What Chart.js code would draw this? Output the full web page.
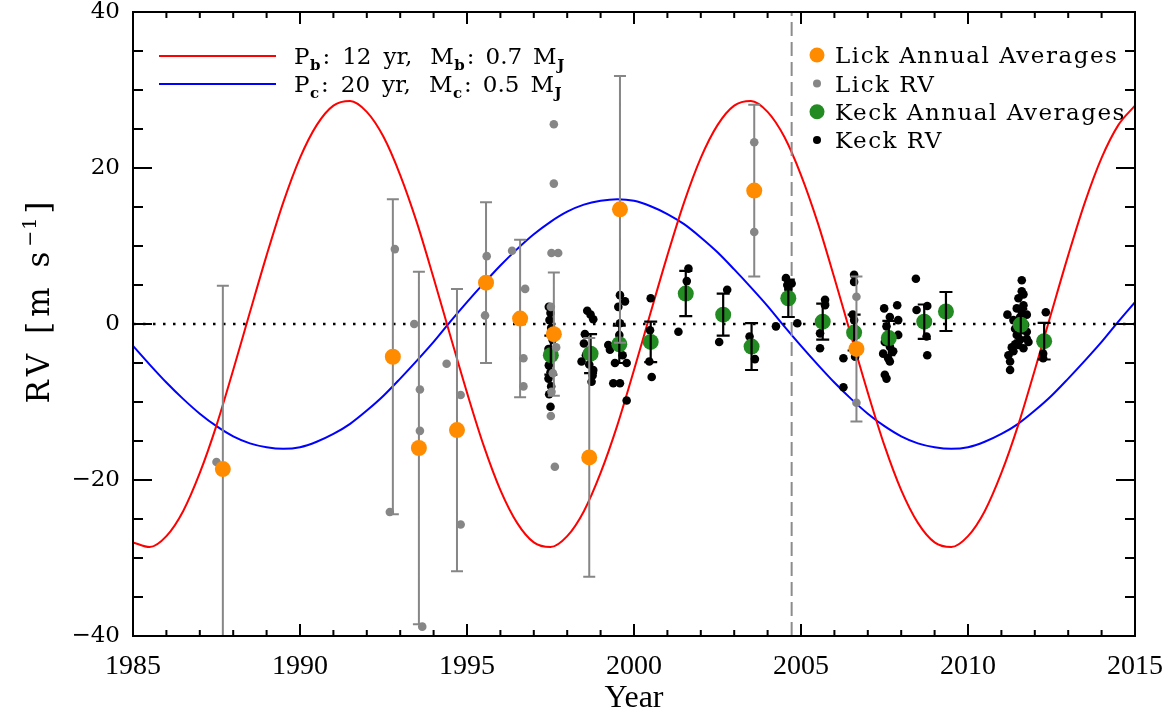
<!DOCTYPE html>
<html>
<head>
<meta charset="utf-8">
<script src="https://cdn.jsdelivr.net/npm/chart.js@4.4.1/dist/chart.umd.min.js"></script>
<style>
  html, body { margin: 0; padding: 0; background: #fff; }
  #wrap { width: 1176px; height: 719px; }
</style>
</head>
<body>
<div id="wrap"><canvas id="rv"></canvas></div>
<script>
// axis ticks
const yearTicks = [1985, 1990, 1995, 2000, 2005, 2010, 2015];
const rvTicks = [-40, -20, 0, 20, 40];
const yearMinorStep = 1;
const rvMinorStep = 5;
const markerYear = 2004.72;

const modelYears = [
  1985, 1985.5, 1986, 1986.5, 1987, 1987.5, 1988, 1988.5, 1989, 1989.5,
  1990, 1990.5, 1991, 1991.5, 1992, 1992.5, 1993, 1993.5, 1994, 1994.5,
  1995, 1995.5, 1996, 1996.5, 1997, 1997.5, 1998, 1998.5, 1999, 1999.5,
  2000, 2000.5, 2001, 2001.5, 2002, 2002.5, 2003, 2003.5, 2004, 2004.5,
  2005, 2005.5, 2006, 2006.5, 2007, 2007.5, 2008, 2008.5, 2009, 2009.5,
  2010, 2010.5, 2011, 2011.5, 2012, 2012.5, 2013, 2013.5, 2014, 2014.5, 2015
];
const planetB = [
  -28.0, -28.6, -27.2, -24.0, -19.1, -13.0, -5.9, 1.5, 8.8, 15.6, 21.3, 25.5,
  28.0, 28.6, 27.2, 24.0, 19.1, 13.0, 5.9, -1.5, -8.8, -15.6, -21.3, -25.5,
  -28.0, -28.6, -27.2, -24.0, -19.1, -13.0, -5.9, 1.5, 8.8, 15.6, 21.3, 25.5,
  28.0, 28.6, 27.2, 24.0, 19.1, 13.0, 5.9, -1.5, -8.8, -15.6, -21.3, -25.5,
  -28.0, -28.6, -27.2, -24.0, -19.1, -13.0, -5.9, 1.5, 8.8, 15.6, 21.3, 25.5, 28.0
];
const planetC = [
  -2.8, -5.2, -7.5, -9.6, -11.5, -13.1, -14.4, -15.3, -15.8, -16.0,
  -15.8, -15.1, -14.1, -12.8, -11.1, -9.2, -7.0, -4.7, -2.3, 0.3,
  2.8, 5.2, 7.5, 9.6, 11.5, 13.1, 14.4, 15.3, 15.8, 16.0,
  15.8, 15.1, 14.1, 12.8, 11.1, 9.2, 7.0, 4.7, 2.3, -0.3,
  -2.8, -5.2, -7.5, -9.6, -11.5, -13.1, -14.4, -15.3, -15.8, -16.0,
  -15.8, -15.1, -14.1, -12.8, -11.1, -9.2, -7.0, -4.7, -2.3, 0.3, 2.8
];

// Lick
const lickAvgYear = [1987.69, 1992.78, 1993.56, 1994.70, 1995.57, 1996.59, 1997.60, 1998.66, 1999.58, 2003.60, 2006.66];
const lickAvgRV = [-18.6, -4.2, -15.9, -13.6, 5.3, 0.7, -1.3, -17.1, 14.7, 17.1, -3.2];
const lickAvgErr = [23.5, 20.2, 22.6, 18.1, 10.3, 10.1, 7.9, 15.3, 17.1, 11.0, 9.3];

const lickYear = [
  1987.50, 1992.84, 1992.69, 1993.42, 1993.59, 1993.59, 1993.66, 1994.39, 1994.81, 1994.81,
  1995.59, 1995.54, 1996.35, 1996.74, 1996.69, 1996.69, 1997.60, 1997.60, 1997.53, 1997.73,
  1997.51, 1997.67, 1997.57, 1997.53, 1997.51, 1997.63, 2003.60, 2003.60, 2006.66, 2006.66
];
const lickRV = [
  -17.7, 9.6, -24.1, 0.0, -8.4, -13.7, -38.8, -5.1, -9.1, -25.7,
  8.7, 1.1, 9.4, 4.5, -4.4, -8.0, 25.6, 18.0, 9.1, 9.1,
  2.2, -3.0, -6.3, -8.7, -11.8, -18.3, 23.3, 11.8, 3.5, -10.1
];

// Keck
const keckAvgYear = [1997.51, 1998.70, 1999.56, 2000.50, 2001.55, 2002.67, 2003.52, 2004.62, 2005.65, 2006.59, 2007.63, 2008.69, 2009.34, 2011.58, 2012.28];
const keckAvgRV = [-4.0, -3.8, -2.6, -2.3, 3.9, 1.2, -2.9, 3.3, 0.3, -1.1, -1.8, 0.3, 1.6, -0.1, -2.2];
const keckAvgErr = [2.5, 2.5, 2.4, 2.6, 2.9, 2.7, 3.0, 2.4, 2.3, 2.3, 2.2, 2.2, 2.5, 2.0, 2.35];

const keckYear = [
  1997.45, 1997.50, 1997.47, 1997.52, 1997.56, 1997.44, 1997.55, 1997.45, 1997.50, 1997.44, 1997.52, 1997.46, 1997.50,
  1998.60, 1998.70, 1998.78, 1998.53, 1998.50, 1998.56, 1998.43, 1998.66, 1998.78, 1998.76, 1998.73,
  1999.58, 1999.73, 1999.53, 1999.58, 1999.56, 1999.23, 1999.28, 1999.66, 1999.43, 1999.78, 1999.38, 1999.58, 1999.78,
  2000.50, 2000.48, 2000.46, 2000.53, 2001.33, 2001.63, 2001.58,
  2002.79, 2002.55, 2003.46, 2003.62,
  2004.25, 2004.55, 2004.59, 2004.72, 2004.62, 2004.89,
  2005.72, 2005.72, 2005.57, 2005.57,
  2006.27, 2006.27, 2006.59, 2006.59, 2006.55, 2006.59, 2006.66, 2006.62,
  2007.49, 2007.88, 2007.66, 2007.91, 2007.56, 2007.91, 2007.51, 2007.66, 2007.76, 2007.46, 2007.61, 2007.66, 2007.51, 2007.56,
  2008.44, 2008.78, 2008.46, 2008.71, 2008.76, 2008.78,
  2011.61, 2011.61, 2011.51, 2011.66, 2011.46, 2011.18, 2011.76, 2011.56, 2011.36, 2011.71, 2011.41, 2011.76, 2011.46,
  2011.76, 2011.81, 2011.51, 2011.66, 2011.36, 2011.21, 2011.26, 2011.26, 2011.61, 2011.51, 2011.66, 2011.56, 2011.41,
  2011.31, 2011.66,
  2012.33, 2012.25, 2012.25
];
const keckRV = [
  2.2, 1.4, 0.5, -0.5, -2.0, -3.2, -4.3, -5.3, -6.2, -7.0, -8.0, -9.0, -10.6,
  1.7, 1.2, 0.6, -1.3, -2.5, -4.0, -4.8, -5.2, -5.9, -6.6, -7.4,
  3.7, 2.9, 2.2, 0.1, -1.4, -2.7, -3.3, -4.0, -5.0, -5.0, -7.6, -7.6, -9.8,
  3.3, -0.8, -4.8, -6.8, -1.0, 7.1, 5.5,
  4.4, -2.3, -1.6, -4.5,
  -0.3, 5.9, 5.0, 5.2, 4.5, 0.1,
  3.1, 2.4, -1.2, -3.1,
  -4.4, -8.1, 6.3, 5.4, 1.2, 0.5, -0.8, -4.2,
  2.0, 2.4, 0.9, 0.5, -0.3, -1.4, -2.3, -2.9, -3.5, -3.8, -4.4, -4.8, -6.5, -7.0,
  5.8, 2.3, 1.8, 0.7, -1.6, -4.0,
  5.6, 4.2, 3.3, 2.4, 2.0, 1.2, 1.2, 0.9, 0.5, -0.1, -0.6, -1.0, -1.4,
  -1.9, -2.3, -2.7, -3.1, -3.5, -4.0, -4.8, -5.9, 1.6, -0.3, -0.8, -2.0, -2.6,
  -3.0, 3.8,
  1.5, -3.8, -4.4
];

const pts = (xs, ys) => xs.map((v, i) => ({ x: v, y: ys[i] }));

const errorBars = {
  id: "errorBars",
  afterDatasetDraw(chart, args) {
    const bars = chart.data.datasets[args.index].errorBars;
    if (!bars) return;
    const { ctx, chartArea: a, scales: { x, y } } = chart;
    ctx.save();
    ctx.beginPath();
    ctx.rect(a.left, a.top, a.right - a.left, a.bottom - a.top);
    ctx.clip();
    ctx.strokeStyle = bars.color;
    ctx.lineWidth = bars.width;
    ctx.beginPath();
    bars.years.forEach((yr, i) => {
      const px = x.getPixelForValue(yr);
      const hi = y.getPixelForValue(bars.values[i] + bars.errs[i]);
      const lo = y.getPixelForValue(bars.values[i] - bars.errs[i]);
      ctx.moveTo(px, hi);
      ctx.lineTo(px, lo);
      ctx.moveTo(px - bars.cap, hi);
      ctx.lineTo(px + bars.cap, hi);
      ctx.moveTo(px - bars.cap, lo);
      ctx.lineTo(px + bars.cap, lo);
    });
    ctx.stroke();
    ctx.restore();
  }
};

const frame = {
  id: "frame",
  afterDatasetsDraw(chart) {
    const { ctx, chartArea: a, scales: { x, y } } = chart;
    ctx.save();
    ctx.strokeStyle = "#000";
    ctx.lineWidth = 2;
    ctx.beginPath();
    for (let v = yearTicks[0]; v <= yearTicks[yearTicks.length - 1]; v += yearMinorStep) {
      const px = x.getPixelForValue(v);
      const len = yearTicks.includes(v) ? 12 : 6;
      ctx.moveTo(px, a.bottom);
      ctx.lineTo(px, a.bottom - len);
      ctx.moveTo(px, a.top);
      ctx.lineTo(px, a.top + len);
    }
    for (let v = rvTicks[0]; v <= rvTicks[rvTicks.length - 1]; v += rvMinorStep) {
      const py = y.getPixelForValue(v);
      const len = rvTicks.includes(v) ? 19 : 10;
      ctx.moveTo(a.left, py);
      ctx.lineTo(a.left + len, py);
      ctx.moveTo(a.right, py);
      ctx.lineTo(a.right - len, py);
    }
    ctx.stroke();
    ctx.strokeRect(a.left, a.top, a.right - a.left, a.bottom - a.top);
    ctx.restore();
  }
};

// draws a run of [text, isSub, gapAfter] pieces from x0
function drawRun(ctx, pieces, x0, base, big, small) {
  let px = x0;
  pieces.forEach(([t, isSub, gap]) => {
    ctx.font = isSub ? small : big;
    ctx.fillText(t, px, isSub ? base + 6 : base);
    px += ctx.measureText(t).width + gap;
  });
}

// legends and the rotated y title
const labels = {
  id: "labels",
  afterDraw(chart) {
    const { ctx } = chart;
    const ds = chart.data.datasets;
    ctx.save();
    ctx.fillStyle = "#000";

    // model legend
    const rows = [
      { line: ds[0], y: 56, sub: "b", period: "12", mass: "0.7" },
      { line: ds[1], y: 84, sub: "c", period: "20", mass: "0.5" }
    ];
    rows.forEach((r) => {
      ctx.strokeStyle = r.line.borderColor;
      ctx.lineWidth = 2;
      ctx.beginPath();
      ctx.moveTo(159, r.y);
      ctx.lineTo(276, r.y);
      ctx.stroke();
      ctx.fillStyle = "#000";
      drawRun(ctx, [
        ["P", false, 0.5], [r.sub, true, 2], [":", false, 12], [r.period, false, 12],
        ["yr,", false, 18], ["M", false, 0.5], [r.sub, true, 2], [":", false, 11],
        [r.mass, false, 11], ["M", false, 0.5], ["J", true, 0]
      ], 294, r.y + 8, "23px 'DejaVu Serif'", "bold 15px 'DejaVu Serif'");
    });

    // data legend
    const items = [ds[7], ds[5], ds[6], ds[4]];
    const centers = [55, 83.4, 111.7, 140];
    ctx.font = "23px 'DejaVu Serif'";
    ctx.letterSpacing = "1.5px";
    items.forEach((d, i) => {
      ctx.fillStyle = d.backgroundColor;
      ctx.beginPath();
      ctx.arc(817, centers[i], d.pointRadius > 6 ? 7.5 : 4, 0, Math.PI * 2);
      ctx.fill();
      ctx.fillStyle = "#000";
      ctx.fillText(d.label, 835, centers[i] + 8.3);
    });

    // y title with a raised exponent
    ctx.translate(41, 300);
    ctx.rotate(-Math.PI / 2);
    ctx.textBaseline = "middle";
    ctx.letterSpacing = "5px";
    const big = "31px 'DejaVu Serif'";
    const sup = "19px 'DejaVu Serif'";
    ctx.font = big;
    const w1 = ctx.measureText("RV [m s").width;
    const w3 = ctx.measureText("]").width;
    ctx.font = sup;
    ctx.letterSpacing = "1px";
    const w2 = ctx.measureText("\u22121").width;
    let px = -(w1 + w2 + w3 + 3) / 2;
    ctx.font = big;
    ctx.letterSpacing = "5px";
    ctx.fillText("RV [m s", px, 0);
    px += w1;
    ctx.font = sup;
    ctx.letterSpacing = "1px";
    ctx.fillText("\u22121", px, -10);
    px += w2 + 3;
    ctx.font = big;
    ctx.letterSpacing = "5px";
    ctx.fillText("]", px, 0);
    ctx.restore();
  }
};

new Chart(document.getElementById("rv"), {
  type: "scatter",
  data: {
    datasets: [
      {
        label: "planet b",
        data: pts(modelYears, planetB),
        showLine: true,
        borderColor: "#ff0000",
        borderWidth: 2,
        pointRadius: 0,
        cubicInterpolationMode: "monotone",
        order: 10
      },
      {
        label: "planet c",
        data: pts(modelYears, planetC),
        showLine: true,
        borderColor: "#0000ff",
        borderWidth: 2,
        pointRadius: 0,
        cubicInterpolationMode: "monotone",
        order: 11
      },
      {
        label: "zero",
        data: pts([yearTicks[0], yearTicks[yearTicks.length - 1]], [0, 0]),
        showLine: true,
        borderColor: "#000",
        borderWidth: 2.5,
        borderDash: [2.5, 7.5],
        pointRadius: 0,
        order: 9
      },
      {
        label: "marker",
        data: pts([markerYear, markerYear], [rvTicks[0], rvTicks[rvTicks.length - 1]]),
        showLine: true,
        borderColor: "#8c8c8c",
        borderWidth: 2,
        borderDash: [14, 6],
        pointRadius: 0,
        order: 8
      },
      {
        label: "Keck RV",
        data: pts(keckYear, keckRV),
        backgroundColor: "#000",
        borderWidth: 0,
        pointRadius: 4.3,
        order: 6
      },
      {
        label: "Lick RV",
        data: pts(lickYear, lickRV),
        backgroundColor: "#868686",
        borderWidth: 0,
        pointRadius: 4.3,
        order: 4,
        errorBars: { years: lickAvgYear, values: lickAvgRV, errs: lickAvgErr, color: "#868686", width: 2, cap: 6 }
      },
      {
        label: "Keck Annual Averages",
        data: pts(keckAvgYear, keckAvgRV),
        backgroundColor: "#228b22",
        borderWidth: 0,
        pointRadius: 8,
        order: 5,
        errorBars: { years: keckAvgYear, values: keckAvgRV, errs: keckAvgErr, color: "#000", width: 2.2, cap: 6.5 }
      },
      {
        label: "Lick Annual Averages",
        data: pts(lickAvgYear, lickAvgRV),
        backgroundColor: "#ff8c00",
        borderWidth: 0,
        pointRadius: 8,
        order: 3
      }
    ]
  },
  options: {
    responsive: true,
    maintainAspectRatio: false,
    devicePixelRatio: 1,
    animation: false,
    events: [],
    layout: { padding: { left: 0, top: 12, right: 41, bottom: 0 } },
    plugins: { legend: { display: false }, tooltip: { enabled: false } },
    scales: {
      x: {
        type: "linear",
        min: yearTicks[0],
        max: yearTicks[yearTicks.length - 1],
        afterBuildTicks: (s) => { s.ticks = yearTicks.map((v) => ({ value: v })); },
        afterFit: (s) => {
          s.height = 83;
          s.paddingLeft = 0; s.paddingRight = 0; s.paddingTop = 0; s.paddingBottom = 0;
        },
        grid: { display: false, drawTicks: false },
        border: { display: false },
        ticks: {
          color: "#000",
          font: { family: "Liberation Serif", size: 28 },
          padding: 14,
          maxRotation: 0,
          autoSkip: false,
          callback: (v) => String(v)
        },
        title: {
          display: true,
          text: "Year",
          color: "#000",
          font: { family: "Liberation Serif", size: 32 },
          padding: { top: 0, bottom: 1 }
        }
      },
      y: {
        min: rvTicks[0],
        max: rvTicks[rvTicks.length - 1],
        afterBuildTicks: (s) => { s.ticks = rvTicks.map((v) => ({ value: v })); },
        afterFit: (s) => {
          s.width = 133;
          s.paddingLeft = 0; s.paddingRight = 0; s.paddingTop = 0; s.paddingBottom = 0;
        },
        grid: { display: false, drawTicks: false },
        border: { display: false },
        ticks: {
          color: "#000",
          font: { family: "DejaVu Serif", size: 23 },
          padding: 13,
          callback: (v) => String(v).replace("-", "\u2212")
        }
      }
    }
  },
  plugins: [errorBars, frame, labels]
});
</script>
</body>
</html>
